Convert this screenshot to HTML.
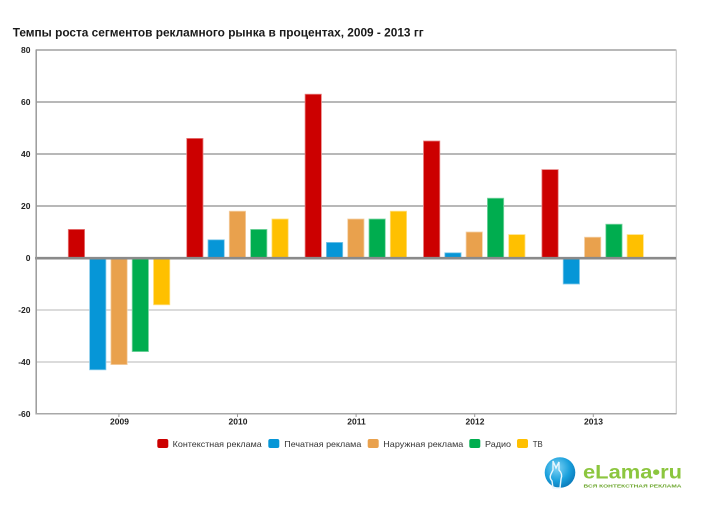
<!DOCTYPE html>
<html>
<head>
<meta charset="utf-8">
<style>
html,body{margin:0;padding:0;background:#fff;}
svg{display:block;}
text{font-family:"Liberation Sans","DejaVu Sans",sans-serif;}
</style>
</head>
<body>
<svg width="703" height="506" viewBox="0 0 703 506" xmlns="http://www.w3.org/2000/svg">
<rect width="703" height="506" fill="#fff"/>
<!-- title -->
<text x="12.7" y="36.3" font-size="12" font-weight="bold" fill="#1a1a1a" textLength="411" lengthAdjust="spacingAndGlyphs">Темпы роста сегментов рекламного рынка в процентах, 2009 - 2013 гг</text>

<!-- gridlines -->
<g stroke-width="1.5">
<line x1="36" y1="50" x2="676" y2="50" stroke="#a0a0a0"/>
<line x1="36" y1="102" x2="676" y2="102" stroke="#a0a0a0"/>
<line x1="36" y1="154" x2="676" y2="154" stroke="#a0a0a0"/>
<line x1="36" y1="206" x2="676" y2="206" stroke="#a0a0a0"/>
<line x1="36" y1="310" x2="676" y2="310" stroke="#cfcfcf"/>
<line x1="36" y1="362" x2="676" y2="362" stroke="#cfcfcf"/>
</g>
<!-- right border -->
<line x1="676.3" y1="49.5" x2="676.3" y2="414" stroke="#c8c8c8" stroke-width="1.2"/>

<!-- bars -->
<g stroke-width="0.8">
<!-- 2009 -->
<rect x="68.3" y="229.4" width="16.3" height="28.6" fill="#cc0000" stroke="#e88080"/>
<rect x="89.6" y="258" width="16.3" height="111.8" fill="#0696d7" stroke="#80c8ea"/>
<rect x="110.9" y="258" width="16.3" height="106.6" fill="#e9a14d" stroke="#f4d0a6"/>
<rect x="132.2" y="258" width="16.3" height="93.6" fill="#00ad4f" stroke="#80d6a6"/>
<rect x="153.5" y="258" width="16.3" height="46.8" fill="#ffc000" stroke="#ffe080"/>
<!-- 2010 -->
<rect x="186.7" y="138.4" width="16.3" height="119.6" fill="#cc0000" stroke="#e88080"/>
<rect x="208.0" y="239.8" width="16.3" height="18.2" fill="#0696d7" stroke="#80c8ea"/>
<rect x="229.3" y="211.2" width="16.3" height="46.8" fill="#e9a14d" stroke="#f4d0a6"/>
<rect x="250.6" y="229.4" width="16.3" height="28.6" fill="#00ad4f" stroke="#80d6a6"/>
<rect x="271.9" y="219" width="16.3" height="39" fill="#ffc000" stroke="#ffe080"/>
<!-- 2011 -->
<rect x="305.1" y="94.2" width="16.3" height="163.8" fill="#cc0000" stroke="#e88080"/>
<rect x="326.4" y="242.4" width="16.3" height="15.6" fill="#0696d7" stroke="#80c8ea"/>
<rect x="347.7" y="219" width="16.3" height="39" fill="#e9a14d" stroke="#f4d0a6"/>
<rect x="369.0" y="219" width="16.3" height="39" fill="#00ad4f" stroke="#80d6a6"/>
<rect x="390.3" y="211.2" width="16.3" height="46.8" fill="#ffc000" stroke="#ffe080"/>
<!-- 2012 -->
<rect x="423.5" y="141" width="16.3" height="117" fill="#cc0000" stroke="#e88080"/>
<rect x="444.8" y="252.8" width="16.3" height="5.2" fill="#0696d7" stroke="#80c8ea"/>
<rect x="466.1" y="232" width="16.3" height="26" fill="#e9a14d" stroke="#f4d0a6"/>
<rect x="487.4" y="198.2" width="16.3" height="59.8" fill="#00ad4f" stroke="#80d6a6"/>
<rect x="508.7" y="234.6" width="16.3" height="23.4" fill="#ffc000" stroke="#ffe080"/>
<!-- 2013 -->
<rect x="541.9" y="169.6" width="16.3" height="88.4" fill="#cc0000" stroke="#e88080"/>
<rect x="563.2" y="258" width="16.3" height="26" fill="#0696d7" stroke="#80c8ea"/>
<rect x="584.5" y="237.2" width="16.3" height="20.8" fill="#e9a14d" stroke="#f4d0a6"/>
<rect x="605.8" y="224.2" width="16.3" height="33.8" fill="#00ad4f" stroke="#80d6a6"/>
<rect x="627.1" y="234.6" width="16.3" height="23.4" fill="#ffc000" stroke="#ffe080"/>
</g>

<!-- zero line -->
<line x1="35" y1="258.2" x2="676" y2="258.2" stroke="#8a8a8a" stroke-width="2.6"/>
<!-- axes -->
<line x1="36.2" y1="49.5" x2="36.2" y2="414.5" stroke="#9a9a9a" stroke-width="1.5"/>
<line x1="36" y1="413.8" x2="676.5" y2="413.8" stroke="#a8a8a8" stroke-width="1.5"/>
<!-- x ticks -->
<g stroke="#999" stroke-width="1">
<line x1="118.9" y1="414" x2="118.9" y2="417"/>
<line x1="237.5" y1="414" x2="237.5" y2="417"/>
<line x1="356.1" y1="414" x2="356.1" y2="417"/>
<line x1="474.7" y1="414" x2="474.7" y2="417"/>
<line x1="593.3" y1="414" x2="593.3" y2="417"/>
</g>

<!-- y labels -->
<g font-size="8.5" font-weight="bold" fill="#222" text-anchor="end">
<text x="30.5" y="53">80</text>
<text x="30.5" y="105">60</text>
<text x="30.5" y="157">40</text>
<text x="30.5" y="209">20</text>
<text x="30.5" y="261">0</text>
<text x="30.5" y="313">-20</text>
<text x="30.5" y="365">-40</text>
<text x="30.5" y="417">-60</text>
</g>
<!-- x labels -->
<g font-size="8.5" font-weight="bold" fill="#222" text-anchor="middle">
<text x="119.5" y="424.5">2009</text>
<text x="238" y="424.5">2010</text>
<text x="356.5" y="424.5">2011</text>
<text x="475" y="424.5">2012</text>
<text x="593.5" y="424.5">2013</text>
</g>

<!-- legend -->
<g font-size="8.5" fill="#333">
<rect x="157.3" y="439" width="11" height="9" rx="2" fill="#cc0000"/>
<text x="172.7" y="447" textLength="89" lengthAdjust="spacingAndGlyphs">Контекстная реклама</text>
<rect x="268.3" y="439" width="11" height="9" rx="2" fill="#0696d7"/>
<text x="284.3" y="447" textLength="77" lengthAdjust="spacingAndGlyphs">Печатная реклама</text>
<rect x="367.7" y="439" width="11" height="9" rx="2" fill="#e9a14d"/>
<text x="383.3" y="447" textLength="80" lengthAdjust="spacingAndGlyphs">Наружная реклама</text>
<rect x="469.3" y="439" width="11" height="9" rx="2" fill="#00ad4f"/>
<text x="485" y="447" textLength="26" lengthAdjust="spacingAndGlyphs">Радио</text>
<rect x="517" y="439" width="11" height="9" rx="2" fill="#ffc000"/>
<text x="532.7" y="447" textLength="10" lengthAdjust="spacingAndGlyphs">ТВ</text>
</g>

<!-- logo -->
<defs>
<radialGradient id="lg" cx="0.4" cy="0.35" r="0.7">
<stop offset="0" stop-color="#7fd3f5"/>
<stop offset="0.6" stop-color="#1aa0dc"/>
<stop offset="1" stop-color="#0a78b8"/>
</radialGradient>
</defs>
<circle cx="560" cy="472.5" r="15.3" fill="url(#lg)"/>
<path d="M553 488 L552 481 Q549 478 551 474 L553 470 L553 461 L556 468 L559 462 L559 470 Q563 474 561 479 L560 488 Z" fill="none" stroke="#e8f6fd" stroke-width="1.4"/>
<text x="583" y="478.3" font-size="19" font-weight="bold" fill="#8cc63f" textLength="99" lengthAdjust="spacingAndGlyphs">eLama•ru</text>
<text x="583.5" y="487.6" font-size="4.6" font-weight="bold" fill="#6aa52a" textLength="98" lengthAdjust="spacingAndGlyphs">ВСЯ КОНТЕКСТНАЯ РЕКЛАМА</text>
</svg>
</body>
</html>
